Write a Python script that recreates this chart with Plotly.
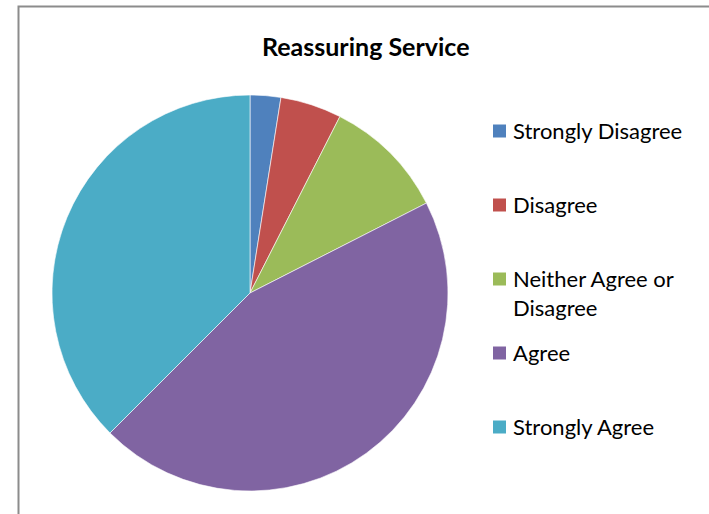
import plotly.graph_objects as go

labels = ["Strongly Disagree", "Disagree", "Neither Agree or Disagree", "Agree", "Strongly Agree"]
legend_text = ["Strongly Disagree", "Disagree", "Neither Agree or<br>Disagree", "Agree", "Strongly Agree"]
values = [1, 2, 4, 18, 15]
colors = ["#4F81BD", "#C0504D", "#9BBB59", "#8064A2", "#4BACC6"]
title = "Reassuring Service"

W, H = 709, 514
FONT = "Lato"

fig = go.Figure()
fig.add_trace(go.Pie(
    labels=labels, values=values, sort=False, direction="clockwise", rotation=0,
    marker=dict(colors=colors, line=dict(color="white", width=0.6)),
    textinfo="none", hoverinfo="label+value", showlegend=False,
    domain=dict(x=[52 / W, 448 / W], y=[23 / H, 419 / H]),
))

shapes = []
annotations = []
# chart border
shapes.append(dict(type="rect", xref="paper", yref="paper",
                   x0=18.5 / W, x1=(W + 20) / W, y0=-20 / H, y1=(H - 6.5) / H,
                   line=dict(color="#8c8c8c", width=2), fillcolor="rgba(0,0,0,0)"))
# legend
leg_y = [131, 205, 279, 353, 427]
for i, (t, c, yy) in enumerate(zip(legend_text, colors, leg_y)):
    shapes.append(dict(type="rect", xref="paper", yref="paper",
                       x0=493 / W, x1=506 / W, y0=(H - yy - 6.5) / H, y1=(H - yy + 6.5) / H,
                       line=dict(width=0), fillcolor=c))
    annotations.append(dict(text=t, xref="paper", yref="paper", x=511 / W, y=(H - yy + 16) / H,
                            xanchor="left", yanchor="top", showarrow=False, align="left",
                            font=dict(family=FONT, size=22, color="#000")))
annotations.append(dict(text="<b>" + title + "</b>", xref="paper", yref="paper",
                        x=365 / W, y=(H - 46) / H, xanchor="center", yanchor="middle",
                        showarrow=False, font=dict(family=FONT, size=25, color="#000")))

fig.update_layout(width=W, height=H, margin=dict(l=0, r=0, t=0, b=0),
                  paper_bgcolor="white", plot_bgcolor="white",
                  shapes=shapes, annotations=annotations)
fig.write_html("out.html")
